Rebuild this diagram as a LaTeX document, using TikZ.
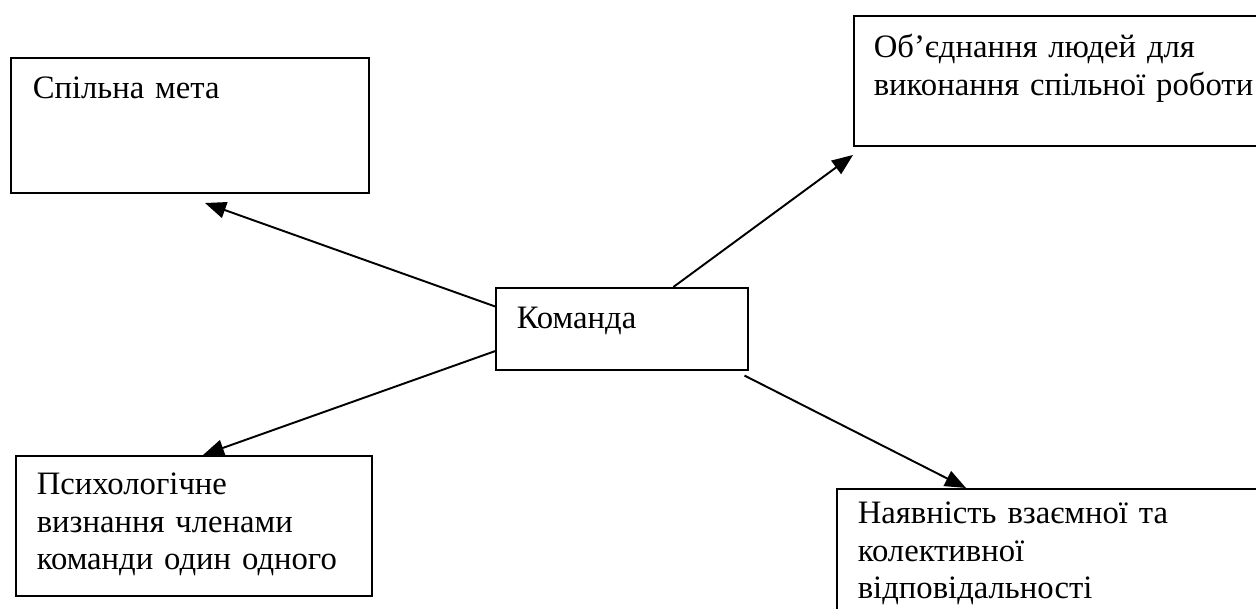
\documentclass[tikz,border=0pt]{standalone}
\usepackage{fontspec}
\setmainfont{Liberation Serif}
\usetikzlibrary{arrows.meta,calc}

\begin{document}
\begin{tikzpicture}[x=0.02cm,y=-0.02cm,
		box/.style={draw,line width=0.9pt,anchor=north west,align=left,inner ysep=0pt,
			font=\fontsize{18.6}{21.2}\selectfont},
		link/.style={line width=1.1pt,-{Triangle[length=0.42cm,width=0.33cm]}}]
		\useasboundingbox (0,0) rectangle (1256,608);
		\node[box,inner xsep=0.44cm,text width=6.28cm,text height=0.82cm,text depth=1.88cm] (goal) at (10,57) {Спільна мета};
		\node[box,inner xsep=0.4cm,text width=7.8cm,text height=0.84cm,text depth=1.76cm] (unite) at (853,15) {Об’єднання людей для\\виконання спільної роботи};
		\node[box,inner xsep=0.42cm,text width=4.2cm,text height=0.82cm,text depth=0.82cm] (team) at (495,287) {Команда};
		\node[box,inner xsep=0.42cm,text width=6.28cm,text height=0.78cm,text depth=2.02cm] (psy) at (15,455) {Психологічне\\визнання членами\\команди один одного};
		\node[box,inner xsep=0.42cm,text width=7.76cm,text height=0.7cm,text depth=2.1cm] (resp) at (836,488) {Наявність взаємної та\\колективної\\відповідальності};
		\coordinate (t1) at (205,203);
		\coordinate (t2) at (853,155);
		\coordinate (t3) at (203,455);
		\coordinate (t4) at (966,488);
		\draw[link](team.170.5)--(t1);
		\draw[link](team.39.9)--(t2);
		\draw[link](team.190.8)--(t3);
		\draw[link]($(team.south east)+(-4,5)$)--(t4);
\end{tikzpicture}
\end{document}
